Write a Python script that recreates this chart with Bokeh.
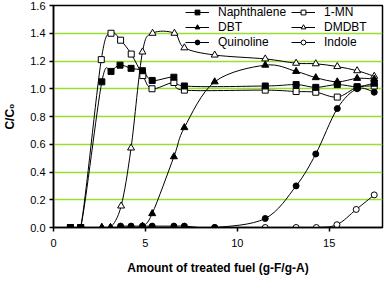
from bokeh.plotting import figure
from bokeh.models import Range1d, Legend, LegendItem, FixedTicker, PrintfTickFormatter, ColumnDataSource
from bokeh.embed import file_html
from bokeh.resources import INLINE

# ---- data ----
naph_x = [0.92, 1.48, 2.63, 3.13, 3.62, 4.22, 4.84, 5.37, 6.55, 7.12, 11.52, 13.2, 14.27, 15.44, 16.52, 17.45]
naph_y = [0.0, 0.0, 1.05, 1.125, 1.17, 1.147, 1.13, 1.06, 1.083, 1.02, 1.02, 1.03, 1.01, 1.03, 1.015, 1.04]

mn_x = [0.92, 1.48, 2.6, 3.13, 3.65, 4.23, 4.86, 5.36, 6.55, 7.12, 11.52, 13.2, 14.27, 15.44, 16.52, 17.45]
mn_y = [0.0, 0.0, 1.21, 1.40, 1.35, 1.25, 1.095, 1.0, 1.045, 0.99, 0.99, 0.98, 0.975, 0.94, 1.01, 1.02]

dbt_x = [2.63, 3.1, 3.65, 4.22, 4.84, 5.37, 6.55, 7.12, 8.77, 11.52, 13.2, 14.27, 15.44, 16.52, 17.45]
dbt_y = [0.0, 0.0, 0.0, 0.0, 0.01, 0.10, 0.51, 0.72, 1.05, 1.17, 1.125, 1.08, 1.05, 1.075, 1.07]

dmdbt_x = [2.63, 3.1, 3.68, 4.22, 4.84, 5.39, 6.58, 7.12, 8.77, 11.52, 13.2, 14.27, 15.44, 16.52, 17.45]
dmdbt_y = [0.0, 0.0, 0.155, 0.573, 1.265, 1.40, 1.40, 1.295, 1.243, 1.215, 1.184, 1.18, 1.16, 1.13, 1.09]

quin_x = [3.65, 4.22, 4.84, 5.37, 6.55, 7.12, 8.77, 11.52, 13.2, 14.27, 15.44, 16.52, 17.45]
quin_y = [0.01, 0.01, 0.01, 0.01, 0.01, 0.01, 0.0, 0.065, 0.30, 0.53, 0.857, 1.0, 0.975]

ind_x = [8.77, 11.52, 13.2, 14.3, 15.42, 16.47, 17.45]
ind_y = [0.0, 0.0, 0.0, 0.0, 0.02, 0.13, 0.235]

y_ticks = [0.0, 0.2, 0.4, 0.6, 0.8, 1.0, 1.2, 1.4, 1.6]
grid_ticks = [0.2, 0.4, 0.6, 0.8, 1.0, 1.2, 1.4]
x_ticks = [0, 5, 10, 15]
x_title = "Amount of treated fuel (g-F/g-A)"
y_title = "C/C\u2080"

FONT = "Liberation Sans"
GREEN = "#99e02e"

X_MIN, X_MAX = 0, 17.9
Y_MIN, Y_MAX = 0, 1.6
p = figure(width=384, height=277, x_range=Range1d(X_MIN, X_MAX), y_range=Range1d(Y_MIN, Y_MAX),
           output_backend="svg", toolbar_location=None,
           min_border_left=51, min_border_right=2, min_border_top=5, min_border_bottom=40)

p.outline_line_color = "black"
p.outline_line_width = 1.5
p.background_fill_color = "white"
p.border_fill_color = "white"

p.xgrid.visible = False
p.ygrid.ticker = FixedTicker(ticks=grid_ticks)
p.ygrid.grid_line_color = GREEN
p.ygrid.grid_line_width = 1.6

p.yaxis.ticker = FixedTicker(ticks=y_ticks)
p.yaxis.formatter = PrintfTickFormatter(format="%.1f")
p.xaxis.ticker = FixedTicker(ticks=x_ticks)
for ax in (p.xaxis, p.yaxis):
    ax.axis_line_width = 1.5
    ax.axis_line_color = "black"
    ax.major_tick_in = 0
    ax.major_tick_out = 4
    ax.major_tick_line_width = 1.5
    ax.minor_tick_line_color = None
    ax.major_label_text_font = FONT
    ax.major_label_text_font_size = "11px"
    ax.major_label_text_color = "black"
    ax.axis_label_text_font = FONT
    ax.axis_label_text_font_size = "12px"
    ax.axis_label_text_font_style = "bold"
    ax.axis_label_text_color = "black"
p.yaxis.axis_label = y_title
p.xaxis.axis_label = x_title
p.xaxis.major_label_standoff = 7
p.xaxis.axis_label_standoff = 11
p.yaxis.major_label_standoff = 4
p.yaxis.axis_label_standoff = 10


def smooth_source(xs, ys):
    n = len(xs)
    d = dict(x0=[], y0=[], x1=[], y1=[], cx0=[], cy0=[], cx1=[], cy1=[])
    for i in range(n - 1):
        a = i - 1 if i > 0 else i
        b = i + 2 if i + 2 < n else i + 1
        d["x0"].append(xs[i]); d["y0"].append(ys[i])
        d["x1"].append(xs[i + 1]); d["y1"].append(ys[i + 1])
        d["cx0"].append(xs[i] + (xs[i + 1] - xs[a]) / 6.0)
        d["cy0"].append(ys[i] + (ys[i + 1] - ys[a]) / 6.0)
        d["cx1"].append(xs[i + 1] - (xs[b] - xs[i]) / 6.0)
        d["cy1"].append(ys[i + 1] - (ys[b] - ys[i]) / 6.0)
    return ColumnDataSource(d)


series = [
    ("Naphthalene", naph_x, naph_y, "square", "black", 6),
    ("1-MN", mn_x, mn_y, "square", "white", 6),
    ("DBT", dbt_x, dbt_y, "triangle", "black", 7),
    ("DMDBT", dmdbt_x, dmdbt_y, "triangle", "white", 7),
    ("Quinoline", quin_x, quin_y, "circle", "black", 6),
    ("Indole", ind_x, ind_y, "circle", "white", 6),
]

line_r = {}
for name, xs, ys, mk, fill, sz in series:
    line_r[name] = p.bezier(x0="x0", y0="y0", x1="x1", y1="y1", cx0="cx0", cy0="cy0",
                            cx1="cx1", cy1="cy1", source=smooth_source(xs, ys),
                            line_color="black", line_width=1)

marker_r = {}
draw_order = ["Indole", "DMDBT", "DBT", "Quinoline", "1-MN", "Naphthalene"]
lookup = {s[0]: s for s in series}
for name in draw_order:
    _, xs, ys, mk, fill, sz = lookup[name]
    marker_r[name] = p.scatter(x=xs, y=ys, marker=mk, size=sz, fill_color=fill,
                               line_color="black", line_width=1)

legend_cols = [(["Naphthalene", "DBT", "Quinoline"], 132), (["1-MN", "DMDBT", "Indole"], 238)]
for names, lx in legend_cols:
    items = [LegendItem(label=n, renderers=[line_r[n], marker_r[n]]) for n in names]
    legend = Legend(items=items, location=(lx, 178),
                    label_text_font=FONT, label_text_font_size="12px", label_text_color="black",
                    glyph_width=24, glyph_height=12, label_height=12, label_standoff=9,
                    spacing=1, padding=2, margin=0, background_fill_alpha=0,
                    border_line_color=None)
    p.add_layout(legend)

open("out.html", "w").write(file_html(p, INLINE))
